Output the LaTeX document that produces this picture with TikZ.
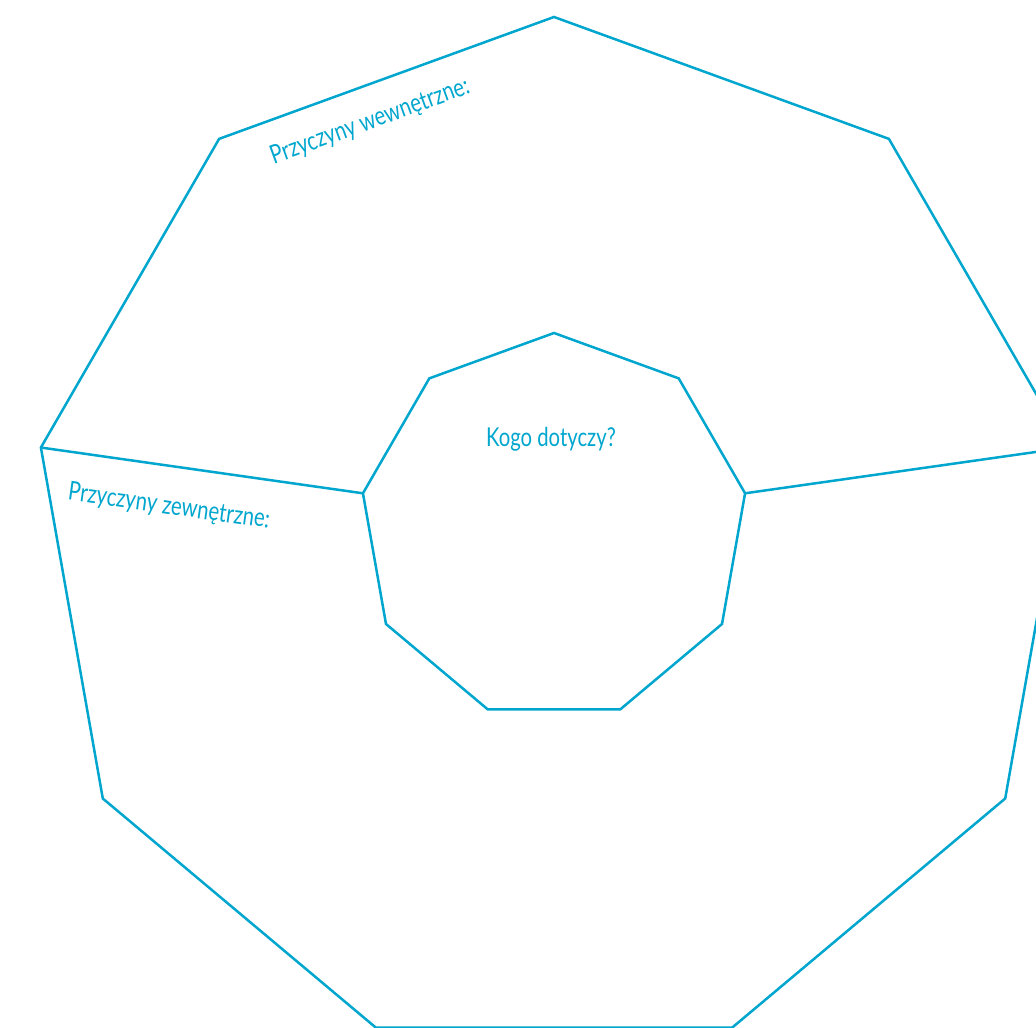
\documentclass[tikz,border=0pt]{standalone}
\usepackage{fontspec}
\setmainfont[FakeStretch=0.78]{Lato}
\usepackage{xcolor}
\usepackage{tikz}
\usetikzlibrary{shapes.geometric, positioning}

\definecolor{linecyan}{RGB}{0,166,206}

\begin{document}
\begin{tikzpicture}[
    x=0.5pt, y=0.5pt,
    ring/.style={draw=linecyan, line width=1.25pt, regular polygon, regular polygon sides=9,
                 inner sep=0pt, outer sep=0pt},
    link/.style={draw=linecyan, line width=1.25pt},
    label/.style={text=linecyan, font=\fontsize{13}{15}\selectfont, inner sep=0pt}
  ]
    \useasboundingbox (0,0) rectangle (1036,1027);
    \clip (0,0) rectangle (1036,1027);

    \node[ring, minimum size=521pt] (outer) at (554,489) {};
    \node[ring, minimum size=194pt] (inner) at (554,500) {};

    \draw[link] (outer.corner 3) -- (inner.corner 3);
    \draw[link] (outer.corner 8) -- (inner.corner 8);

    \node[label, rotate=20]  (inside)  at (370,905) {Przyczyny wewnętrzne:};
    \node[label, rotate=-8]  (outside) at (169,520) {Przyczyny zewnętrzne:};
    \node[label]             (whom)    at (551,588) {Kogo dotyczy?};
  \end{tikzpicture}
\end{document}
